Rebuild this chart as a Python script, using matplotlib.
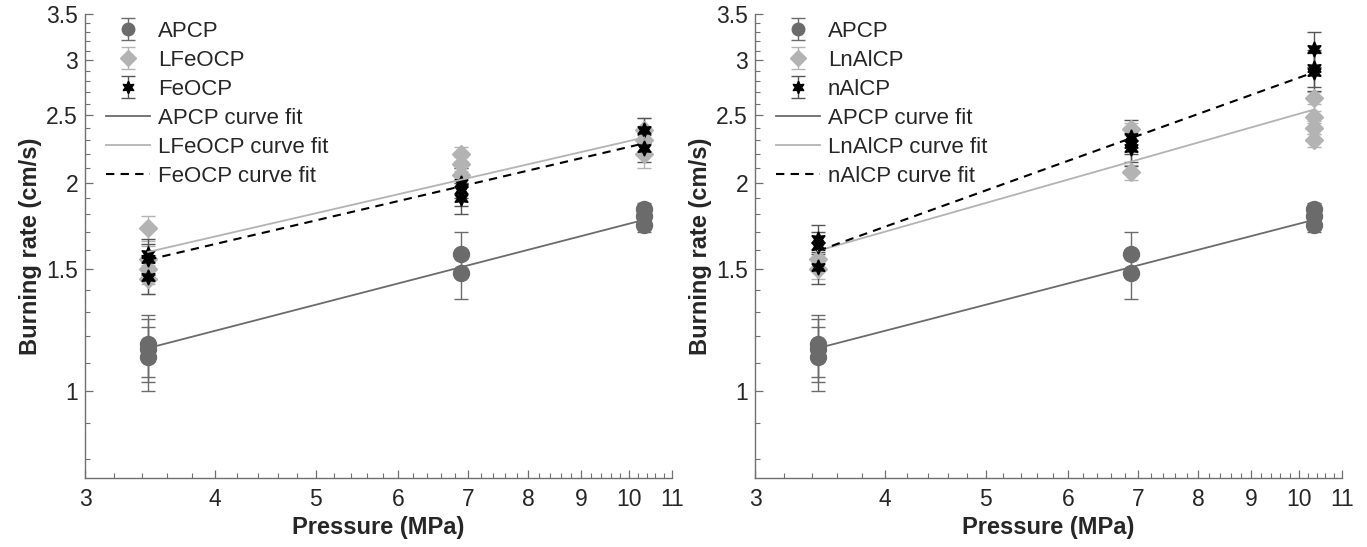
import numpy as np
import matplotlib
matplotlib.use("Agg")
import matplotlib.pyplot as plt
from matplotlib.ticker import FixedLocator, NullFormatter

plt.rcParams['font.family'] = ['Liberation Sans', 'DejaVu Sans']

# ---------------- data ----------------
pressures = [3.45, 6.9, 10.34]  # MPa

# APCP (same in both panels): values per pressure, error per pressure
apcp_vals = [[1.17, 1.15, 1.12], [1.58, 1.48], [1.83, 1.79, 1.74]]
apcp_err = [0.12, 0.12, 0.04]

# left panel
lfeocp_vals = [[1.72, 1.55, 1.50, 1.45], [2.20, 2.13, 2.05], [2.38, 2.30, 2.20]]
lfeocp_err = [0.07, 0.05, 0.10]
feocp_vals = [[1.58, 1.55, 1.46], [2.00, 1.95, 1.90], [2.38, 2.24]]
feocp_err = [0.08, 0.10, 0.10]

# right panel
lnalcp_vals = [[1.55, 1.50], [2.39, 2.07], [2.65, 2.49, 2.40, 2.30]]
lnalcp_err = [0.05, 0.05, 0.05]
nalcp_vals = [[1.66, 1.62, 1.51], [2.33, 2.27, 2.24], [3.12, 2.93, 2.89]]
nalcp_err = [0.08, 0.13, 0.18]

# curve fits r = a * P^n  (a, n)
apcp_fit = (0.714, 0.388)
lfeocp_fit = (1.035, 0.346)
feocp_fit = (1.001, 0.352)
lnalcp_fit = (0.940, 0.427)
nalcp_fit = (0.817, 0.540)

x_ticks = [3, 4, 5, 6, 7, 8, 9, 10, 11]
y_ticks = [1, 1.5, 2, 2.5, 3, 3.5]

# ---------------- styles ----------------
C_DARK = '#6b6b6b'
C_LIGHT = '#b3b3b3'
C_BLACK = '#000000'
C_ERR_BLACK = '#555555'


def flatten(vals, errs):
    xs, ys, es = [], [], []
    for p, vs, e in zip(pressures, vals, errs):
        for v in vs:
            xs.append(p)
            ys.append(v)
            es.append(e)
    return np.array(xs), np.array(ys), np.array(es)


def draw_panel(ax, names, series, fits):
    markers = ['o', 'D', (6, 1, 0)]
    msizes = [11.5, 9.5, 11]
    lmsizes = [9, 8, 9]
    colors = [C_DARK, C_LIGHT, C_BLACK]
    ecolors = [C_DARK, C_LIGHT, C_ERR_BLACK]
    handles = []
    for (vals, errs), m, ms, lms, c, ec, nm in zip(series, markers, msizes, lmsizes,
                                                  colors, ecolors, names):
        xs, ys, es = flatten(vals, errs)
        ax.errorbar(xs, ys, yerr=es, fmt='none', ecolor=ec, elinewidth=1.0,
                    capsize=5, capthick=1.0, zorder=3)
        ax.plot(xs, ys, ls='none', marker=m, ms=ms, color=c, mfc=c, mec=c, zorder=3.5)
        # legend proxy: errorbar with marker
        hp = ax.errorbar([np.nan], [np.nan], yerr=[0.1], ls='none', marker=m, ms=lms,
                         color=c, mfc=c, mec=c, ecolor=ec, elinewidth=1.0,
                         capsize=5, capthick=1.0, label=nm)
        handles.append(hp)
    pp = np.linspace(pressures[0], pressures[-1], 100)
    lstyles = ['-', '-', '--']
    lcolors = [C_DARK, C_LIGHT, C_BLACK]
    lws = [1.3, 1.3, 1.5]
    for (a, n), ls, lc, lw, nm in zip(fits, lstyles, lcolors, lws, names):
        if ls == '--':
            h, = ax.plot(pp, a * pp ** n, ls='--', dashes=(4, 3), color=lc, lw=lw,
                         label=nm + ' curve fit', zorder=4)
        else:
            h, = ax.plot(pp, a * pp ** n, ls='-', color=lc, lw=lw,
                         label=nm + ' curve fit', zorder=4)
        handles.append(h)

    ax.set_xscale('log')
    ax.set_yscale('log')
    ax.set_xlim(3, 11)
    ax.set_ylim(0.75, 3.5)
    ax.xaxis.set_major_locator(FixedLocator(x_ticks))
    ax.xaxis.set_minor_locator(FixedLocator(np.arange(3.2, 11.0, 0.2)))
    ax.set_xticklabels([f'{t:g}' for t in x_ticks])
    ax.xaxis.set_minor_formatter(NullFormatter())
    ax.yaxis.set_major_locator(FixedLocator(y_ticks))
    ax.yaxis.set_minor_locator(FixedLocator(np.arange(0.8, 3.5, 0.1)))
    ax.set_yticklabels([f'{t:g}' for t in y_ticks])
    ax.yaxis.set_minor_formatter(NullFormatter())
    ax.tick_params(which='major', direction='in', length=6, width=0.9,
                   colors='#707070', labelcolor='#262626', labelsize=16.5)
    ax.tick_params(axis='y', which='major', pad=5)
    ax.tick_params(axis='x', which='major', pad=7)
    ax.tick_params(which='minor', direction='in', length=3.5, width=0.8, colors='#707070')
    for s in ['top', 'right']:
        ax.spines[s].set_visible(False)
    for s in ['left', 'bottom']:
        ax.spines[s].set_color('#707070')
        ax.spines[s].set_linewidth(1.0)
    ax.set_xlabel('Pressure (MPa)', fontsize=17, fontweight='bold', color='#262626', labelpad=4)
    ax.set_ylabel('Burning rate (cm/s)', fontsize=17, fontweight='bold', color='#262626', labelpad=3)
    leg = ax.legend(handles=handles, loc='upper left', frameon=False, fontsize=16,
                    handlelength=2.0, handletextpad=0.35, labelspacing=0.36,
                    borderaxespad=0.0, bbox_to_anchor=(0.02, 1.005))
    for t in leg.get_texts():
        t.set_color('#262626')


fig = plt.figure(figsize=(13.67, 5.47), dpi=100)
ax1 = fig.add_axes([0.0622, 0.1261, 0.4294, 0.8483])
ax2 = fig.add_axes([0.5523, 0.1261, 0.4294, 0.8483])

draw_panel(ax1, ['APCP', 'LFeOCP', 'FeOCP'],
           [(apcp_vals, apcp_err), (lfeocp_vals, lfeocp_err), (feocp_vals, feocp_err)],
           [apcp_fit, lfeocp_fit, feocp_fit])
draw_panel(ax2, ['APCP', 'LnAlCP', 'nAlCP'],
           [(apcp_vals, apcp_err), (lnalcp_vals, lnalcp_err), (nalcp_vals, nalcp_err)],
           [apcp_fit, lnalcp_fit, nalcp_fit])

fig.savefig('out.png', dpi=100)
